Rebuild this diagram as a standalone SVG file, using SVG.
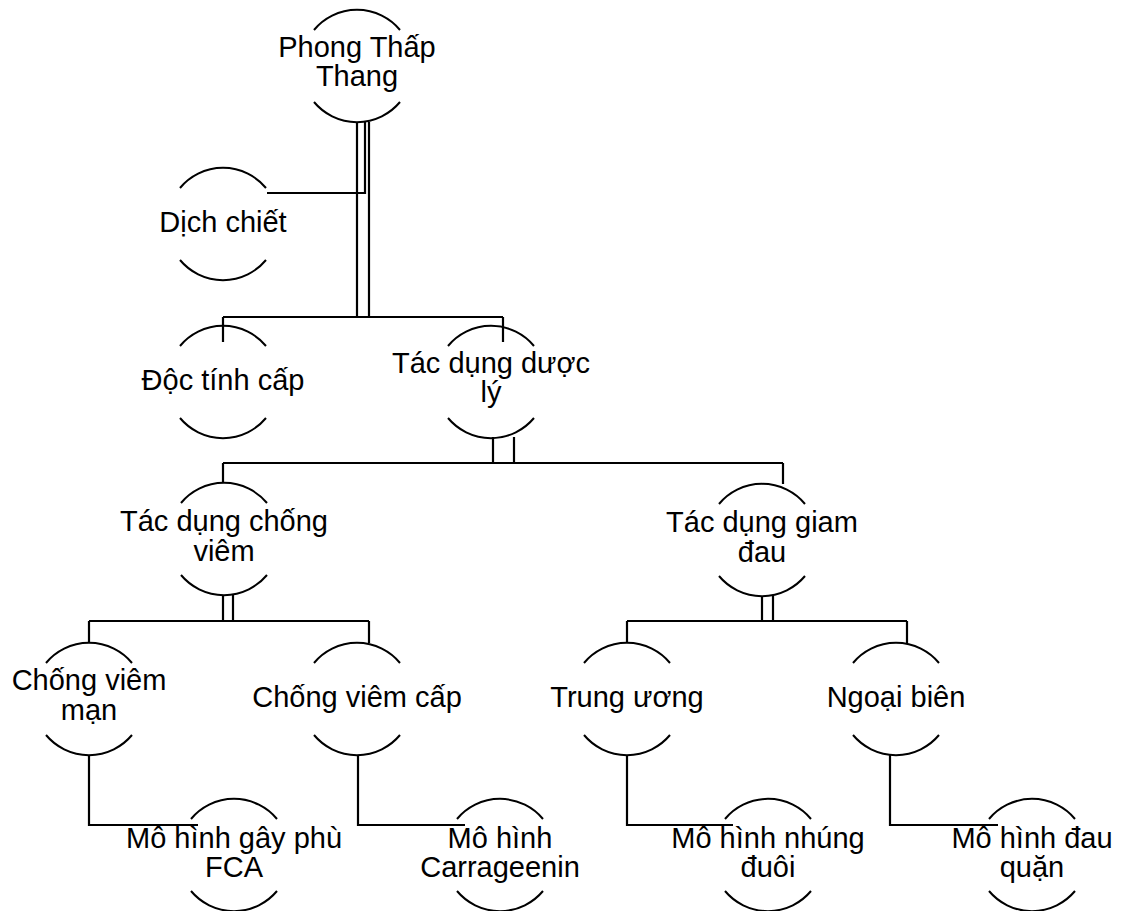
<svg xmlns="http://www.w3.org/2000/svg" width="1133" height="911" viewBox="0 0 1133 911">
<style>
.bg{fill:#ffffff}
.arc{fill:none;stroke:#000;stroke-width:2}
.ln{fill:none;stroke:#000;stroke-width:2.2}
text{font-family:"Liberation Sans",Arial,sans-serif;font-size:29px;fill:#000;text-anchor:middle}
</style>
<defs>
<path id="ring" class="arc" d="M-43,-36 A56,56 0 0 1 43,-36 M-43,36 A56,56 0 0 0 43,36"/>
</defs>
<rect class="bg" x="0" y="0" width="1133" height="911"/>
<g id="connectors">
<path class="ln" d="M365,122 V193 H267"/>
<path class="ln" d="M357,122 V317 M369,122 V317 M223,317 H503 M223,317 V342 M503,317 V342"/>
<path class="ln" d="M493,437 V463 M514,437 V463 M223,463 H783 M223,463 V483 M783,463 V484"/>
<path class="ln" d="M223,595 V621 M233,595 V621 M89,621 H369 M89,621 V643 M369,621 V643"/>
<path class="ln" d="M762,596 V621 M773,596 V621 M627,621 H907 M627,621 V643 M907,621 V643"/>
<path class="ln" d="M89,755 V825 H198"/>
<path class="ln" d="M358,755 V825 H465"/>
<path class="ln" d="M627,755 V825 H733"/>
<path class="ln" d="M890,755 V825 H998"/>
</g>
<g id="n-root"><use href="#ring" transform="translate(357,66)"/><text x="357" y="57">Phong Thấp</text><text x="357" y="86">Thang</text></g>
<g id="n-dichchiet"><use href="#ring" transform="translate(223,224)"/><text x="223" y="232">Dịch chiết</text></g>
<g id="n-doctinh"><use href="#ring" transform="translate(223,382)"/><text x="223" y="390">Độc tính cấp</text></g>
<g id="n-duocly"><use href="#ring" transform="translate(491,382)"/><text x="491" y="373">Tác dụng dược</text><text x="491" y="402">lý</text></g>
<g id="n-chongviem"><use href="#ring" transform="translate(224,539)"/><text x="224" y="531">Tác dụng chống</text><text x="224" y="561">viêm</text></g>
<g id="n-giamdau"><use href="#ring" transform="translate(762,540)"/><text x="762" y="532">Tác dụng giam</text><text x="762" y="562">đau</text></g>
<g id="n-viemman"><use href="#ring" transform="translate(89,699)"/><text x="89" y="690">Chống viêm</text><text x="89" y="720">mạn</text></g>
<g id="n-viemcap"><use href="#ring" transform="translate(357,699)"/><text x="357" y="707">Chống viêm cấp</text></g>
<g id="n-trunguong"><use href="#ring" transform="translate(627,699)"/><text x="627" y="707">Trung ương</text></g>
<g id="n-ngoaibien"><use href="#ring" transform="translate(896,699)"/><text x="896" y="707">Ngoại biên</text></g>
<g id="n-fca"><use href="#ring" transform="translate(234,855)"/><text x="234" y="848">Mô hình gây phù</text><text x="234" y="877">FCA</text></g>
<g id="n-carra"><use href="#ring" transform="translate(500,855)"/><text x="500" y="848">Mô hình</text><text x="500" y="877">Carrageenin</text></g>
<g id="n-nhungduoi"><use href="#ring" transform="translate(768,855)"/><text x="768" y="848">Mô hình nhúng</text><text x="768" y="877">đuôi</text></g>
<g id="n-dauquan"><use href="#ring" transform="translate(1032,855)"/><text x="1032" y="848">Mô hình đau</text><text x="1032" y="877">quặn</text></g>
</svg>
